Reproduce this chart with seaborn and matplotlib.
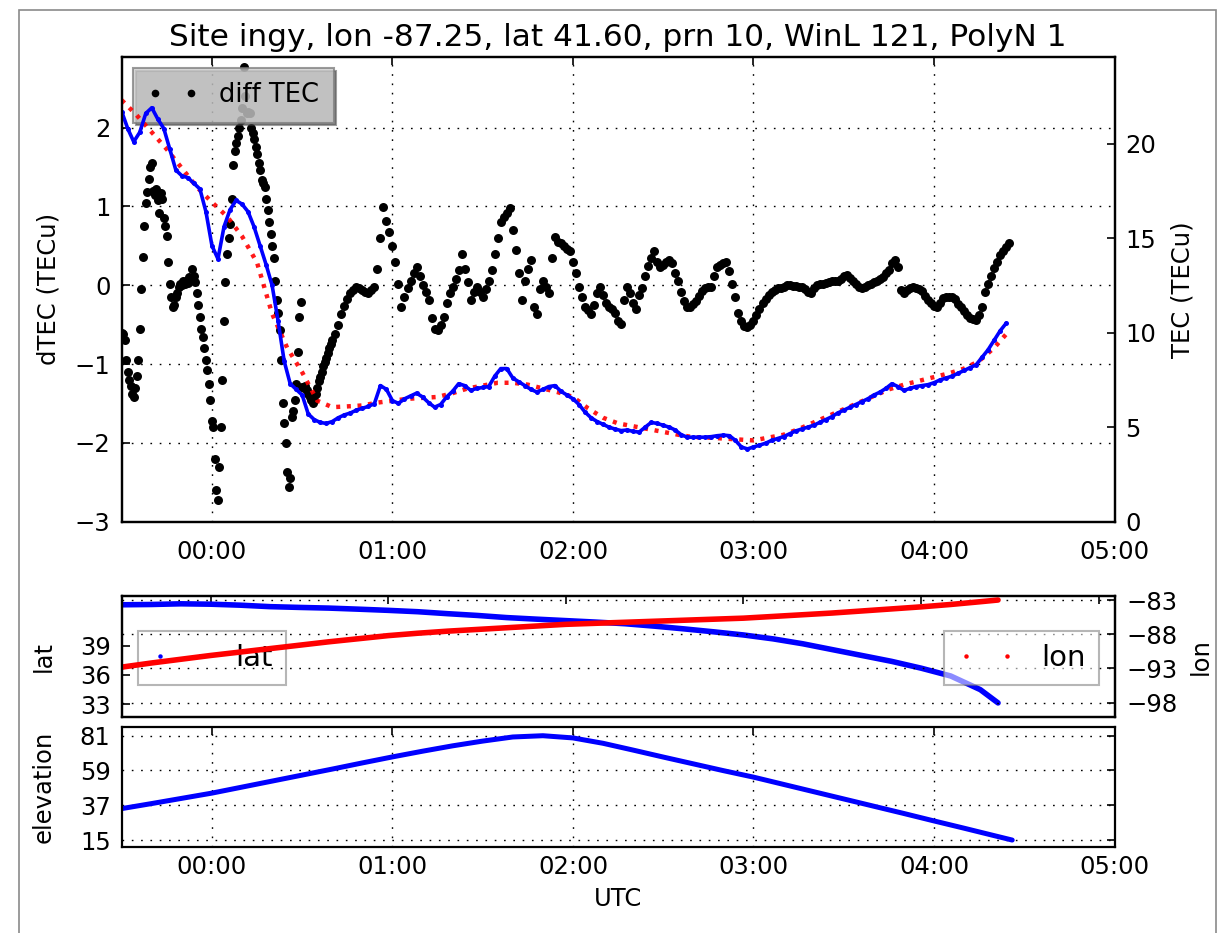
import numpy as np
import pandas as pd
import matplotlib
matplotlib.use("Agg")
import matplotlib.pyplot as plt
import matplotlib.dates as mdates
from matplotlib.lines import Line2D
from matplotlib.patches import Rectangle
import seaborn as sns

# ---------------------------------------------------------------- data
site_name = "ingy"
site_lon = -87.25
site_lat = 41.60
prn = 10
win_len = 121
poly_n = 1

t_start = pd.Timestamp("2000-01-01 23:30:00")

# detrended TEC, 30 s samples 23:30:00 - 00:40:00
dtec_fast = [
    -0.60, -0.62, -0.70, -0.95, -1.10, -1.20, -1.28, -1.38, -1.42, -1.30,
    -1.15, -0.95, -0.55, -0.05, 0.36, 0.75, 1.05, 1.18, 1.35, 1.50,
    1.55, 1.20, 1.15, 1.22, 1.08, 0.92, 1.17, 1.10, 0.85, 0.75,
    0.62, 0.30, 0.02, -0.15, -0.28, -0.25, -0.15, -0.10, -0.02, 0.02,
    0.00, 0.05, 0.02, 0.06, 0.03, 0.10, 0.08, 0.21, 0.12, 0.04,
    -0.10, -0.25, -0.40, -0.55, -0.66, -0.80, -0.95, -1.08, -1.25, -1.45,
    -1.72, -1.80, -2.20, -2.60, -2.73, -2.30, -1.80, -1.20, -0.45, 0.04,
    0.40, 0.60, 0.78, 1.10, 1.52, 1.70, 1.80, 1.90, 2.00, 2.10,
    2.25, 2.77, 2.40, 2.18, 2.20, 2.18, 2.00, 1.93, 1.85, 1.75,
    1.67, 1.55, 1.46, 1.33, 1.30, 1.25, 1.10, 0.95, 0.80, 0.65,
    0.50, 0.35, 0.06, -0.19, -0.35, -0.57, -0.95, -1.50, -1.75, -2.00,
    -2.37, -2.56, -2.45, -1.67, -1.59, -1.45, -1.25, -0.85, -0.40, -0.21,
    -1.29, -1.30, -1.28, -1.33, -1.38, -1.42, -1.45, -1.50, -1.45, -1.38,
    -1.30, -1.22, -1.17, -1.10, -1.03, -0.97, -0.92, -0.86, -0.80, -0.75,
    -0.70,
]
# detrended TEC, 1 min samples 00:41 - 04:25
dtec_slow = [
    -0.62, -0.50, -0.36, -0.26, -0.18, -0.10, -0.06, -0.02, -0.04, -0.06,
    -0.08, -0.10, -0.06, -0.02, 0.20, 0.60, 0.99, 0.82, 0.68, 0.50,
    0.30, 0.02, -0.28, -0.15, -0.04, 0.05, 0.15, 0.23, 0.12, 0.00,
    -0.08, -0.19, -0.42, -0.55, -0.57, -0.50, -0.40, -0.22, -0.10, -0.02,
    0.08, 0.19, 0.40, 0.20, 0.04, -0.19, -0.08, -0.02, -0.08, -0.15,
    -0.05, 0.05, 0.19, 0.40, 0.60, 0.80, 0.87, 0.92, 0.98, 0.70,
    0.45, 0.15, -0.19, 0.05, 0.20, 0.32, -0.28, -0.36, -0.05, 0.06,
    -0.02, -0.10, 0.35, 0.61, 0.55, 0.53, 0.50, 0.46, 0.44, 0.30,
    0.15, -0.02, -0.15, -0.28, -0.32, -0.36, -0.25, -0.10, -0.02, -0.12,
    -0.23, -0.27, -0.30, -0.35, -0.45, -0.49, -0.19, -0.02, -0.10, -0.22,
    -0.30, -0.12, -0.04, 0.12, 0.25, 0.35, 0.44, 0.30, 0.23, 0.26,
    0.30, 0.32, 0.28, 0.16, 0.06, -0.08, -0.20, -0.28, -0.27, -0.24,
    -0.20, -0.14, -0.07, -0.04, -0.02, -0.02, 0.12, 0.23, 0.26, 0.28,
    0.30, 0.18, 0.02, -0.15, -0.35, -0.45, -0.52, -0.53, -0.50, -0.45,
    -0.38, -0.30, -0.23, -0.17, -0.12, -0.08, -0.06, -0.04, -0.03, -0.02,
    0.00, 0.00, -0.01, -0.01, -0.02, -0.02, -0.05, -0.09, -0.10, -0.04,
    0.00, 0.01, 0.02, 0.03, 0.04, 0.05, 0.05, 0.06, 0.08, 0.12,
    0.13, 0.09, 0.05, 0.01, -0.02, -0.04, -0.02, 0.00, 0.02, 0.04,
    0.06, 0.08, 0.11, 0.15, 0.19, 0.28, 0.32, 0.23, -0.06, -0.10,
    -0.06, -0.03, -0.02, -0.03, -0.05, -0.07, -0.13, -0.19, -0.23, -0.26,
    -0.28, -0.22, -0.16, -0.15, -0.15, -0.15, -0.18, -0.24, -0.28, -0.33,
    -0.38, -0.41, -0.43, -0.44, -0.38, -0.28, -0.08, 0.02, 0.12, 0.22,
    0.30, 0.38, 0.44, 0.48, 0.53,
]
# slant TEC, 2 min samples 23:30 - 04:24
tec_vals = [
    21.7, 20.8, 20.1, 20.6, 21.6, 21.9, 21.3, 20.8, 19.7, 18.6,
    18.3, 18.2, 17.9, 17.6, 16.4, 14.6, 13.9, 15.6, 16.5, 17.0,
    16.8, 16.4, 15.6, 14.6, 13.6, 12.5, 10.6, 8.5, 7.3, 7.0,
    6.7, 5.7, 5.4, 5.25, 5.2, 5.3, 5.5, 5.65, 5.75, 5.9,
    6.0, 6.1, 6.25, 7.2, 7.0, 6.4, 6.26, 6.5, 6.65, 6.8,
    6.6, 6.3, 6.06, 6.2, 6.6, 6.9, 7.3, 7.2, 6.95, 7.05,
    7.1, 7.15, 7.7, 8.1, 8.1, 7.6, 7.4, 7.2, 7.0, 6.86,
    7.0, 7.15, 7.2, 6.9, 6.7, 6.5, 6.2, 5.8, 5.5, 5.3,
    5.15, 5.0, 4.9, 4.82, 4.85, 4.78, 4.74, 5.0, 5.25, 5.2,
    5.1, 5.0, 4.85, 4.6, 4.47, 4.47, 4.47, 4.47, 4.5, 4.55,
    4.58, 4.55, 4.3, 3.95, 3.85, 3.95, 4.05, 4.15, 4.3, 4.4,
    4.5, 4.65, 4.8, 4.9, 5.0, 5.1, 5.25, 5.4, 5.55, 5.75,
    5.9, 6.05, 6.2, 6.35, 6.5, 6.7, 6.85, 7.05, 7.3, 7.15,
    6.95, 7.05, 7.15, 7.2, 7.25, 7.35, 7.5, 7.6, 7.7, 7.85,
    8.0, 8.15, 8.3, 8.7, 9.1, 9.6, 10.1, 10.5,
]
# polynomial trend of TEC, 5 min samples 23:30 - 04:25
fit_vals = [
    22.3, 21.5, 20.6, 19.7, 18.7, 17.7, 16.9, 16.15, 15.1, 13.7,
    11.0, 9.2, 7.9, 6.4, 6.06, 6.1, 6.15, 6.3, 6.4, 6.5,
    6.55, 6.6, 6.8, 7.05, 7.2, 7.35, 7.35, 7.25, 7.05, 6.85,
    6.6, 6.0, 5.5, 5.2, 5.05, 4.9, 4.75, 4.6, 4.47, 4.45,
    4.4, 4.35, 4.3, 4.45, 4.6, 4.9, 5.25, 5.6, 5.95, 6.3,
    6.65, 7.0, 7.25, 7.45, 7.65, 7.85, 8.1, 8.5, 9.2, 10.1,
]
# pierce point geometry (minutes after 00:00)
geo_minutes = [-30, -20, -10, 0, 10, 20, 30, 40, 50, 60, 70, 80, 90, 100,
               110, 120, 130, 140, 150, 160, 170, 180, 190, 200, 210, 220,
               230, 240, 250, 260, 266]
lat_vals = [43.19, 43.22, 43.29, 43.25, 43.15, 43.0, 42.92, 42.85, 42.74,
            42.62, 42.48, 42.28, 42.1, 41.88, 41.72, 41.57, 41.42, 41.25,
            41.0, 40.72, 40.42, 40.1, 39.7, 39.2, 38.6, 38.0, 37.4, 36.7,
            35.9, 34.5, 33.14]
lon_vals = [-92.8, -92.2, -91.65, -91.1, -90.6, -90.1, -89.6, -89.1, -88.65,
            -88.2, -87.85, -87.55, -87.3, -87.05, -86.8, -86.55, -86.4,
            -86.25, -86.1, -85.95, -85.8, -85.65, -85.4, -85.15, -84.9,
            -84.6, -84.3, -84.0, -83.65, -83.25, -83.0]
elev_vals = [34.9, 38.1, 41.4, 44.7, 48.5, 52.3, 56.1, 59.9, 63.8, 67.6,
             71.2, 74.6, 77.6, 80.2, 81.0, 79.6, 76.2, 71.9, 67.5, 63.2,
             58.9, 54.8, 50.2, 45.6, 41.0, 36.4, 31.8, 27.1, 22.5, 17.8,
             15.0]

dtec_ticks = [-3, -2, -1, 0, 1, 2]
tec_ticks = [0, 5, 10, 15, 20]
lat_ticks = [33, 36, 39]
lon_ticks = [-98, -93, -88, -83]
elev_ticks = [15, 37, 59, 81]

# ---------------------------------------------------------------- times
dtec_time = np.concatenate([
    pd.date_range(t_start, periods=len(dtec_fast), freq="30s"),
    pd.date_range(t_start + pd.Timedelta(minutes=71), periods=len(dtec_slow), freq="1min"),
])
dtec_all = np.array(dtec_fast + dtec_slow)
tec_time = pd.date_range(t_start, periods=len(tec_vals), freq="2min")
fit_time = pd.date_range(t_start, periods=len(fit_vals), freq="5min")
midnight = pd.Timestamp("2000-01-02 00:00:00")
geo_time = midnight + pd.to_timedelta(geo_minutes, unit="min")

x_lo = t_start
x_hi = pd.Timestamp("2000-01-02 05:00:00")
x_hi_mid = pd.Timestamp("2000-01-02 05:05:30")

# ---------------------------------------------------------------- style
sns.set_style("white")
base = 17.5
plt.rcParams.update({
    "font.family": ["DejaVu Sans"],
    "font.size": base,
    "axes.linewidth": 1.6,
    "axes.edgecolor": "black",
    "xtick.direction": "in",
    "ytick.direction": "in",
    "xtick.major.size": 6,
    "ytick.major.size": 6,
    "xtick.major.width": 1.2,
    "ytick.major.width": 1.2,
    "xtick.labelsize": base,
    "ytick.labelsize": base,
    "axes.labelsize": base,
    "xtick.color": "black",
    "ytick.color": "black",
    "text.color": "black",
    "axes.labelcolor": "black",
})
grid_kw = dict(color="black", linestyle=(0, (1.2, 5.5)), linewidth=1.0)

W, H = 1218, 933
fig = plt.figure(figsize=(W / 100, H / 100), dpi=100)


def frac_box(left, top, right, bottom):
    return [left / W, 1 - bottom / H, (right - left) / W, (bottom - top) / H]


# ---------------------------------------------------------------- main panel
ax = fig.add_axes(frac_box(121.7, 56.7, 1114.5, 521.7))
sns.scatterplot(x=dtec_time, y=dtec_all, ax=ax, color="black", s=42,
                linewidth=0, legend=False, zorder=3)
ax.set_xlim(x_lo, x_hi)
ax.set_ylim(-3, 2.9)
ax.set_yticks(dtec_ticks)
ax.xaxis.set_major_locator(mdates.HourLocator())
ax.xaxis.set_major_formatter(mdates.DateFormatter("%H:%M"))
ax.grid(True, **grid_kw)
ax.tick_params(axis="x", top=True, pad=13)
ax.tick_params(axis="y", pad=8)
ax.set_ylabel("dTEC (TECu)", labelpad=10)
ax.set_xlabel("")
ax.set_title(f"Site {site_name}, lon {site_lon:.2f}, lat {site_lat:.2f}, "
             f"prn {prn}, WinL {win_len}, PolyN {poly_n}", fontsize=22.5, pad=8)
leg = ax.legend(handles=[Line2D([], [], color="black", marker="o", markersize=5.5,
                                linestyle="none", markeredgewidth=0)],
                labels=["diff TEC"], loc="upper left", bbox_to_anchor=(0.0117, 0.975),
                borderaxespad=0, numpoints=2, handlelength=2.0, fontsize=18.5,
                fancybox=False, shadow=True, framealpha=0.75, borderpad=0.55,
                handletextpad=0.8)
leg.get_frame().set_facecolor("#cdcdcd")
leg.get_frame().set_edgecolor("#7a7a7a")
leg.get_frame().set_linewidth(1.5)

ax2 = ax.twinx()
sns.lineplot(x=fit_time, y=fit_vals, ax=ax2, color="red", linewidth=3.2,
             linestyle=(0, (0.9, 1.5)), estimator=None, alpha=0.9)
sns.lineplot(x=tec_time, y=tec_vals, ax=ax2, color="blue", linewidth=2.6,
             marker="o", markersize=3.6, markeredgewidth=0, estimator=None)
ax2.set_xlim(x_lo, x_hi)
ax2.set_ylim(0, 24.6)
ax2.set_yticks(tec_ticks)
ax2.tick_params(axis="y", pad=8)
ax2.set_ylabel("TEC (TECu)", labelpad=10)
ax2.set_xlabel("")

# ---------------------------------------------------------------- lat / lon panel
axm = fig.add_axes(frac_box(121.7, 595.7, 1115.0, 716.7))
sns.lineplot(x=geo_time, y=lat_vals, ax=axm, color="blue", linewidth=4.0,
             estimator=None)
axm.set_xlim(x_lo, x_hi_mid)
axm.set_ylim(31.73, 44.12)
axm.set_yticks(lat_ticks)
axm.xaxis.set_major_locator(mdates.HourLocator())
axm.xaxis.set_major_formatter(mdates.DateFormatter("%H:%M"))
axm.tick_params(axis="x", top=True, labelbottom=False)
axm.tick_params(axis="y", pad=8)
axm.set_ylabel("lat", labelpad=17)
axm.set_xlabel("")
leg_lat = axm.legend(handles=[Line2D([], [], color="blue", marker="o", markersize=3.2,
                                     linestyle="none", markeredgewidth=0)],
                     labels=["lat"], loc="upper left", bbox_to_anchor=(0.0161, 0.711),
                     borderaxespad=0, numpoints=2, handlelength=2.0, fontsize=21,
                     fancybox=False, framealpha=0.55, borderpad=0.45, handletextpad=0.9)
leg_lat.get_frame().set_edgecolor("#7a7a7a")
leg_lat.get_frame().set_linewidth(1.5)

axm2 = axm.twinx()
sns.lineplot(x=geo_time, y=lon_vals, ax=axm2, color="red", linewidth=4.0,
             estimator=None)
axm2.set_xlim(x_lo, x_hi_mid)
axm2.set_ylim(-100.04, -82.37)
axm2.set_yticks(lon_ticks)
axm2.grid(True, axis="y", **grid_kw)
axm2.tick_params(axis="y", pad=8)
axm2.set_ylabel("lon", labelpad=8)
axm2.set_xlabel("")
leg_lon = axm2.legend(handles=[Line2D([], [], color="red", marker="o", markersize=3.2,
                                      linestyle="none", markeredgewidth=0)],
                      labels=["lon"], loc="upper right", bbox_to_anchor=(0.9842, 0.711),
                      borderaxespad=0, numpoints=2, handlelength=2.0, fontsize=21,
                      fancybox=False, framealpha=0.55, borderpad=0.45, handletextpad=0.9)
leg_lon.get_frame().set_edgecolor("#7a7a7a")
leg_lon.get_frame().set_linewidth(1.5)

# ---------------------------------------------------------------- elevation panel
axe = fig.add_axes(frac_box(121.7, 726.7, 1114.5, 846.7))
sns.lineplot(x=geo_time, y=elev_vals, ax=axe, color="blue", linewidth=3.6,
             estimator=None)
axe.set_xlim(x_lo, x_hi)
axe.set_ylim(10.8, 86.7)
axe.set_yticks(elev_ticks)
axe.xaxis.set_major_locator(mdates.HourLocator())
axe.xaxis.set_major_formatter(mdates.DateFormatter("%H:%M"))
axe.grid(True, **grid_kw)
axe.tick_params(axis="x", top=True, pad=6)
axe.tick_params(axis="y", right=True, pad=8)
axe.set_ylabel("elevation", labelpad=17)
axe.set_xlabel("UTC", labelpad=6)

# thin frame round the whole figure
fig.add_artist(Rectangle((19 / W, -0.02), (1215.5 - 19) / W, 1 - 10 / H + 0.02,
                         transform=fig.transFigure, fill=False,
                         edgecolor="#8a8a8a", linewidth=1.2))

fig.savefig("out.png", dpi=100)
